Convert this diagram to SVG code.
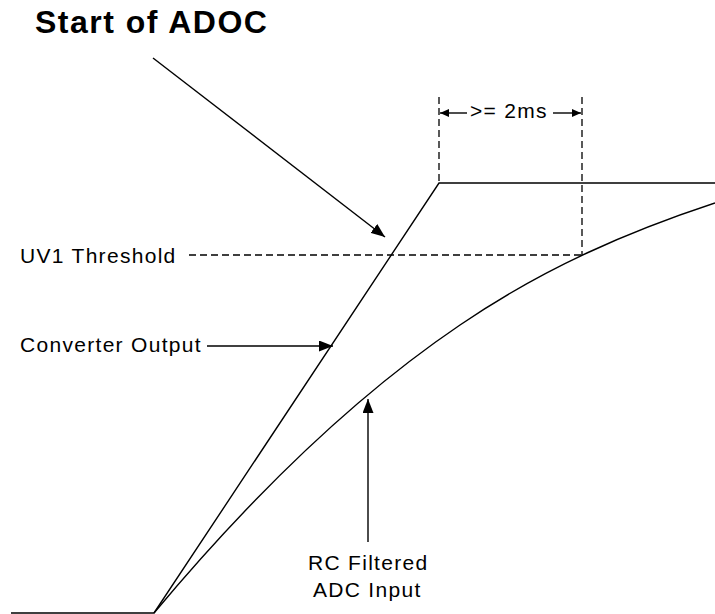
<svg xmlns="http://www.w3.org/2000/svg" width="715" height="614" viewBox="0 0 715 614">
<style>
.ln{fill:none;stroke:#000;stroke-width:1.4}
.dash{fill:none;stroke:#000;stroke-width:1.3;stroke-dasharray:7 4}
.lbl{font-family:"Liberation Sans",Arial,sans-serif;font-size:21px;letter-spacing:1.3px;fill:#000}
.title{font-family:"Liberation Sans",Arial,sans-serif;font-size:32px;font-weight:bold;letter-spacing:1.5px;fill:#000}
</style>
<defs>
<marker id="ah" markerUnits="userSpaceOnUse" markerWidth="14" markerHeight="11" refX="14" refY="5.5" orient="auto">
<path d="M0,0 L14,5.5 L0,11 z" fill="#000"/>
</marker>
<marker id="ahs" markerUnits="userSpaceOnUse" markerWidth="9" markerHeight="8" refX="9" refY="4" orient="auto">
<path d="M0,0 L9,4 L0,8 z" fill="#000"/>
</marker>
</defs>
<rect width="715" height="614" fill="#fff"/>
<g id="title"><text class="title" x="35" y="33">Start of ADOC</text></g>
<g id="waveforms">
<path id="converter-output" class="ln" d="M11,613 L154,613 L439,183 L715,183"/>
<path id="rc-filtered" class="ln" d="M154,613 C256,491 358,394 460,325 C545,267 630,231 715,203"/>
</g>
<g id="guides">
<line class="dash" x1="189" y1="255" x2="582" y2="255"/>
<line class="dash" x1="439" y1="97" x2="439" y2="183"/>
<line class="dash" x1="582" y1="97" x2="582" y2="255"/>
</g>
<g id="uv1-threshold"><text class="lbl" x="20" y="263">UV1 Threshold</text></g>
<g id="converter-label"><text class="lbl" x="20" y="352">Converter Output</text></g>
<g id="rc-label">
<text class="lbl" x="308" y="570">RC Filtered</text>
<text class="lbl" x="313" y="597">ADC Input</text>
</g>
<g id="dimension"><text class="lbl" x="470" y="118">&gt;= 2ms</text></g>
<g id="connectors">
<line class="ln" x1="153" y1="58" x2="385" y2="237" marker-end="url(#ah)"/>
<line class="ln" x1="207" y1="346" x2="333" y2="346" marker-end="url(#ah)"/>
<line class="ln" x1="368" y1="542" x2="368" y2="399" marker-end="url(#ah)"/>
<line class="ln" x1="467" y1="113" x2="440" y2="113" marker-end="url(#ahs)"/>
<line class="ln" x1="553" y1="113" x2="581" y2="113" marker-end="url(#ahs)"/>
</g>
</svg>
